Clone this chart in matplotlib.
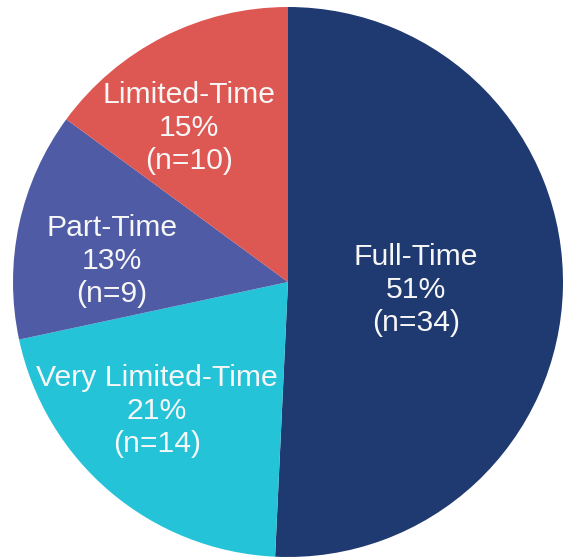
import matplotlib.pyplot as plt

categories = ["Full-Time", "Very Limited-Time", "Part-Time", "Limited-Time"]
counts = [34, 14, 9, 10]
percents = [51, 21, 13, 15]
colors = ["#1F3A70", "#24C3D8", "#4F5BA5", "#DE5853"]

# label centres in pie-radius units
label_pos = [(0.465, -0.029), (-0.476, -0.469), (-0.64, 0.076), (-0.36, 0.56)]

plt.rcParams['font.family'] = ['Liberation Sans', 'DejaVu Sans']

fig = plt.figure(figsize=(5.65, 5.59), dpi=100)
ax = fig.add_axes([13 / 565, 2 / 559, 550 / 565, 550 / 559])

ax.pie(counts, colors=colors, startangle=90, counterclock=False,
       radius=1, wedgeprops=dict(linewidth=0))

for name, pct, n, (x, y) in zip(categories, percents, counts, label_pos):
    ax.text(x, y, f"{name}\n{pct}%\n(n={n})", ha='center', va='center',
            color='#F7F7F7', fontsize=21.7, linespacing=1.22)

ax.set_xlim(-1, 1)
ax.set_ylim(-1, 1)
ax.axis('off')

plt.savefig('out.png', dpi=100)
